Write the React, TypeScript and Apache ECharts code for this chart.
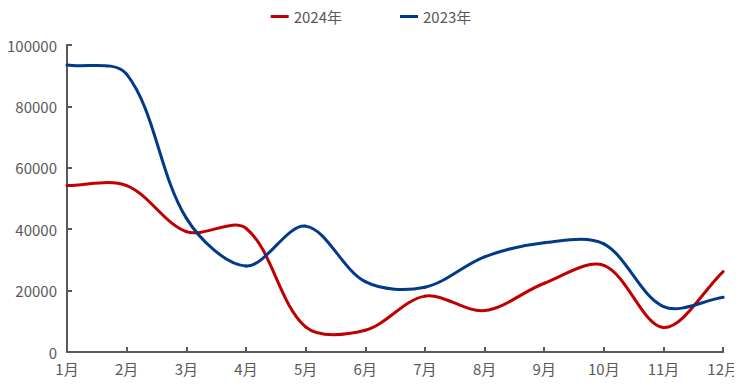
import React, { useEffect, useRef } from "react";
import * as echarts from "echarts";

const months = ["1月", "2月", "3月", "4月", "5月", "6月", "7月", "8月", "9月", "10月", "11月", "12月"];
const data2024 = [54200, 54200, 39200, 40300, 8200, 7100, 18200, 13500, 22400, 28200, 8000, 26200];
const data2023 = [93500, 90500, 43600, 28000, 41000, 22900, 21100, 31000, 35600, 35200, 14800, 17800];
const yTicks = { min: 0, max: 100000, interval: 20000 };

const FONT = "'Noto Sans CJK SC', 'Noto Sans', sans-serif";
const TEXT = "#595959";
const AXIS = "#595959";
const RED = "#C00000";
const BLUE = "#023A8A";
const SMOOTH = 1 / 3;

function smoothSeries(name: string, values: number[], color: string) {
  const n = values.length;
  return {
    name,
    type: "custom",
    coordinateSystem: "cartesian2d",
    data: values.map((v, i) => [i, v]),
    encode: { x: 0, y: 1 },
    itemStyle: { color },
    clip: false,
    renderItem: (params: any, api: any) => {
      const i = params.dataIndex;
      if (i >= n - 1) return null;
      const pt = (j: number) => {
        const k = Math.max(0, Math.min(n - 1, j));
        return api.coord([k, values[k]]);
      };
      const dist = (a: number[], b: number[]) => Math.hypot(a[0] - b[0], a[1] - b[1]);
      const tangent = (j: number) => {
        const prev = pt(j - 1);
        const cur = pt(j);
        const next = pt(j + 1);
        const vx = next[0] - prev[0];
        const vy = next[1] - prev[1];
        const lp = dist(prev, cur);
        const ln = dist(cur, next);
        const tot = lp + ln || 1;
        return { cur, vx, vy, rp: lp / tot, rn: ln / tot };
      };
      const a = tangent(i);
      const b = tangent(i + 1);
      return {
        type: "bezierCurve",
        shape: {
          x1: a.cur[0],
          y1: a.cur[1],
          x2: b.cur[0],
          y2: b.cur[1],
          cpx1: a.cur[0] + a.vx * SMOOTH * a.rn,
          cpy1: a.cur[1] + a.vy * SMOOTH * a.rn,
          cpx2: b.cur[0] - b.vx * SMOOTH * b.rp,
          cpy2: b.cur[1] - b.vy * SMOOTH * b.rp,
        },
        style: { stroke: color, lineWidth: 3, fill: "none", lineCap: "round" },
      };
    },
  };
}

export default function App() {
  const ref = useRef<HTMLDivElement>(null);
  useEffect(() => {
    if (!ref.current) return;
    const chart = echarts.init(ref.current, undefined, { renderer: "svg" });
    chart.setOption({
      animation: false,
      legend: {
        top: 4,
        left: "center",
        itemGap: 58,
        itemWidth: 18,
        itemHeight: 3,
        textStyle: { fontFamily: FONT, fontSize: 15, color: TEXT },
        data: [
          { name: "2024年", icon: "rect", itemStyle: { color: RED } },
          { name: "2023年", icon: "rect", itemStyle: { color: BLUE } },
        ],
      },
      grid: { left: 67, right: 18, top: 45, bottom: 35, containLabel: false },
      xAxis: {
        type: "category",
        data: months,
        boundaryGap: false,
        axisLine: { lineStyle: { color: AXIS, width: 2 } },
        axisTick: { inside: true, length: 5, lineStyle: { color: AXIS, width: 2 } },
        axisLabel: { fontFamily: FONT, fontSize: 15, color: TEXT, margin: 9 },
        splitLine: { show: false },
      },
      yAxis: {
        type: "value",
        min: yTicks.min,
        max: yTicks.max,
        interval: yTicks.interval,
        axisLine: { show: true, lineStyle: { color: AXIS, width: 2 } },
        axisTick: { show: true, inside: true, length: 5, lineStyle: { color: AXIS, width: 2 } },
        axisLabel: { fontFamily: FONT, fontSize: 15, color: TEXT, margin: 10, formatter: (v: number) => String(v) },
        splitLine: { show: false },
      },
      series: [smoothSeries("2024年", data2024, RED), smoothSeries("2023年", data2023, BLUE)],
    });
    return () => chart.dispose();
  }, []);
  return <div ref={ref} style={{ width: 742, height: 387, margin: -8 }} />;
}
